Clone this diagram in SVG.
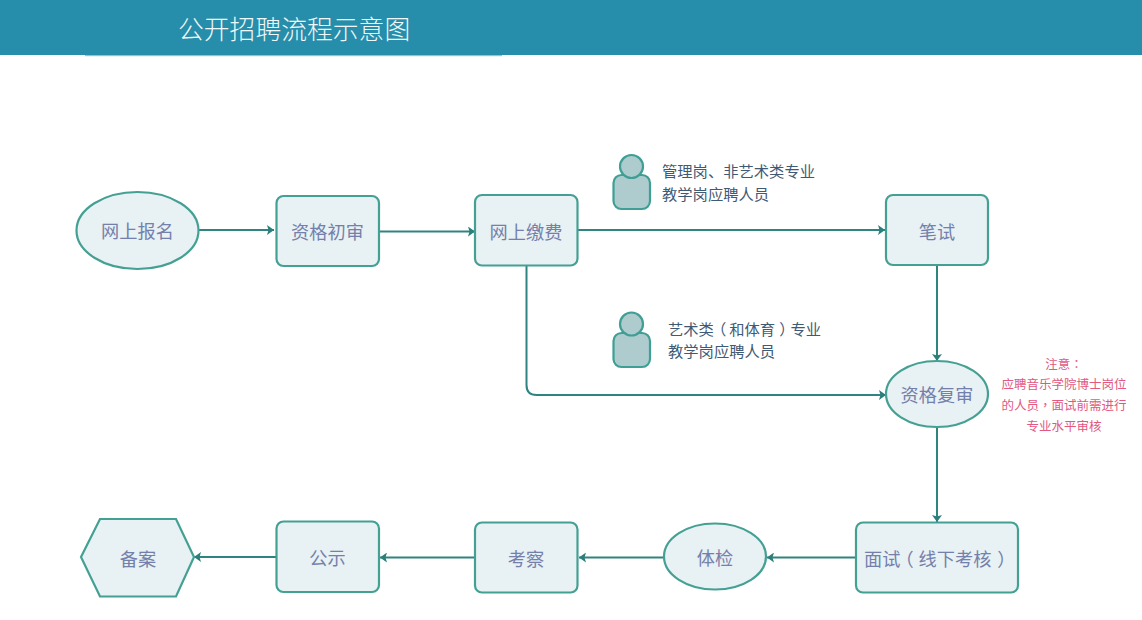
<svg xmlns="http://www.w3.org/2000/svg" width="1142" height="620" viewBox="0 0 1142 620">
<style>
text{font-family:"Noto Sans CJK SC","Noto Sans",sans-serif}
.tc{font-family:"Noto Sans CJK TC","Noto Sans",sans-serif}
.n{fill:#e8f1f3;stroke:#45a094;stroke-width:2.2}
.p{fill:#aeccce;stroke:#3f9f95;stroke-width:2.2}
.l{font-size:18.2px;fill:#7480ac;text-anchor:middle;font-weight:400}
.s{font-size:15.3px;fill:#3f5a74;font-weight:400}
.r{font-size:12.5px;fill:#e2587f;text-anchor:middle;font-weight:400}
.c{fill:none;stroke:#2f8480;stroke-width:2}
</style>
<defs>
<marker id="a" markerUnits="userSpaceOnUse" markerWidth="8" markerHeight="10" refX="7" refY="5" orient="auto"><path d="M0 0L7 5L0 10L1.500 5Z" fill="#2a7f7b"/></marker>
</defs>
<rect width="1142" height="55" fill="#268daa"/>
<rect x="85" y="55" width="417" height="1.200" fill="#8cc6d2"/>
<text x="178" y="38.500" font-size="25.800" fill="#eef7f9" font-weight="300">公开招聘流程示意图</text>
<g id="connectors">
<path class="c" marker-end="url(#a)" d="M199 230H274"/>
<path class="c" marker-end="url(#a)" d="M380 231.500H475"/>
<path class="c" marker-end="url(#a)" d="M578 230H885"/>
<path class="c" marker-end="url(#a)" d="M526.500 266V385Q526.500 395 536.500 395H886"/>
<path class="c" marker-end="url(#a)" d="M937 266V361"/>
<path class="c" marker-end="url(#a)" d="M937 427V522"/>
<path class="c" marker-end="url(#a)" d="M855 557.500H767"/>
<path class="c" marker-end="url(#a)" d="M664 557.500H579"/>
<path class="c" marker-end="url(#a)" d="M475 557.500H380"/>
<path class="c" marker-end="url(#a)" d="M276 557H194"/>
</g>
<g id="n1"><ellipse class="n" cx="137.500" cy="230.500" rx="61" ry="38.500"/><text class="l" x="137.500" y="238">网上报名</text></g>
<g id="n2"><rect class="n" x="276.500" y="196" width="102.500" height="70" rx="7"/><text class="l" x="327.500" y="239">资格初审</text></g>
<g id="n3"><rect class="n" x="475" y="195" width="102.500" height="70.500" rx="7"/><text class="l" x="526" y="238.500">网上缴费</text></g>
<g id="n4"><rect class="n" x="886" y="195" width="102" height="70" rx="7"/><text class="l" x="937" y="238.500">笔试</text></g>
<g id="n5"><ellipse class="n" cx="937" cy="394" rx="51" ry="33"/><text class="l" x="937" y="401.500">资格复审</text></g>
<g id="n6"><rect class="n" x="856" y="522.500" width="162" height="70" rx="7"/><text class="l" style="text-anchor:start" x="864" y="565.500">面试<tspan dx="-5">（</tspan><tspan dx="5">线下考核</tspan><tspan dx="6">）</tspan></text></g>
<g id="n7"><ellipse class="n" cx="715" cy="556.500" rx="51" ry="33"/><text class="l" x="715" y="564.500">体检</text></g>
<g id="n8"><rect class="n" x="475" y="522.500" width="102.500" height="70" rx="7"/><text class="l" x="526" y="566">考察</text></g>
<g id="n9"><rect class="n" x="276.500" y="521.500" width="102.500" height="70.500" rx="7"/><text class="l" x="327.500" y="565">公示</text></g>
<g id="n10"><polygon class="n" points="81,557 100,519 176,519 194,557 176,596.500 100,596.500"/><text class="l" x="138" y="566">备案</text></g>
<g id="person1"><rect class="p" x="613.500" y="175" width="36.500" height="34" rx="8"/><circle class="p" cx="631.500" cy="166.500" r="11.500"/></g>
<g id="person2"><rect class="p" x="613.500" y="333" width="36.500" height="34" rx="8"/><circle class="p" cx="631.500" cy="324" r="11.500"/></g>
<g id="note1"><text class="s" x="662" y="177">管理岗、非艺术类专业</text><text class="s" x="662" y="200">教学岗应聘人员</text></g>
<g id="note2"><text class="s" x="668" y="335">艺术类<tspan dx="-3">（</tspan><tspan dx="3">和体育</tspan><tspan dx="4">）</tspan><tspan dx="-4">专业</tspan></text><text class="s" x="668" y="357">教学岗应聘人员</text></g>
<g id="note3"><text class="r" x="1064" y="369">注意<tspan class="tc">：</tspan></text><text class="r" x="1064" y="389">应聘音乐学院博士岗位</text><text class="r" x="1064" y="410">的人员<tspan class="tc">，</tspan>面试前需进行</text><text class="r" x="1064" y="431">专业水平审核</text></g>
</svg>
